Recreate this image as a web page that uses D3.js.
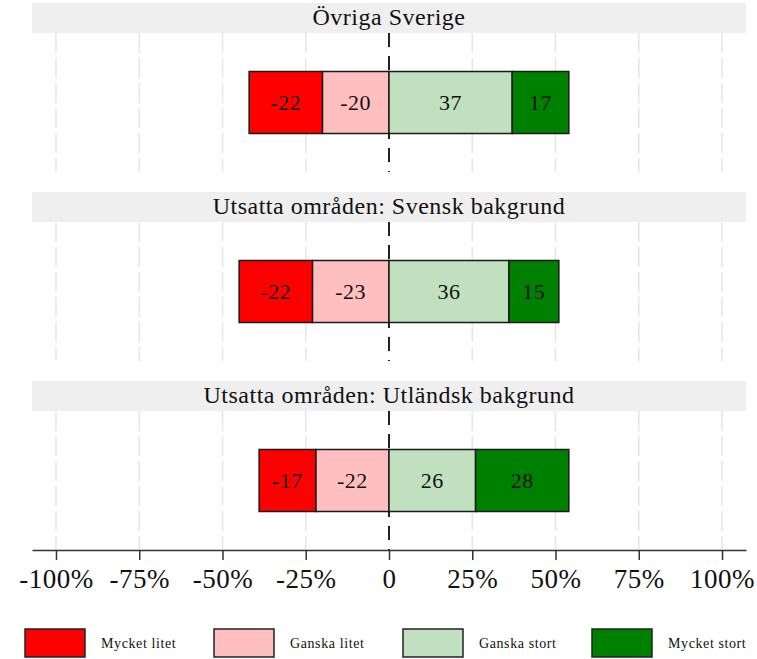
<!DOCTYPE html>
<html>
<head>
<meta charset="utf-8">
<script src="https://cdn.jsdelivr.net/npm/d3@7"></script>
<style>
  body { margin: 0; background: #fff; }
  svg { display: block; font-family: "Liberation Serif", "DejaVu Serif", serif; }
</style>
</head>
<body>
<div id="chart"></div>
<script>
// Data
const panels = ['Övriga Sverige', 'Utsatta områden: Svensk bakgrund', 'Utsatta områden: Utländsk bakgrund'];
const categories = ['Mycket litet', 'Ganska litet', 'Ganska stort', 'Mycket stort'];
const mycketLitet = [-22, -22, -17];
const ganskaLitet = [-20, -23, -22];
const ganskaStort = [37, 36, 26];
const mycketStort = [17, 15, 28];
const tickValues = [-100, -75, -50, -25, 0, 25, 50, 75, 100];
const colors = ['#ff0000', '#ffbfbf', '#c0e0c0', '#008000'];

const W = 757, H = 659;
const left = 32, right = 746;
const headerH = 30, plotH = 139;

const svg = d3.select('#chart').append('svg').attr('width', W).attr('height', H);

const x = d3.scaleLinear().domain([-107.2, 107.2]).range([left, right]);
const panelY = d3.scaleBand().domain(panels).range([3, 570]);

// build segments: negatives stacked leftwards from 0, positives rightwards
const rows = panels.map((p, i) => {
  const vals = [mycketLitet[i], ganskaLitet[i], ganskaStort[i], mycketStort[i]];
  const segs = [
    { cat: 1, x0: vals[1], x1: 0, v: vals[1] },
    { cat: 0, x0: vals[0] + vals[1], x1: vals[1], v: vals[0] },
    { cat: 2, x0: 0, x1: vals[2], v: vals[2] },
    { cat: 3, x0: vals[2], x1: vals[2] + vals[3], v: vals[3] }
  ];
  return { panel: p, segs };
});

const panelG = svg.selectAll('.panel')
  .data(rows)
  .join('g')
  .attr('class', 'panel')
  .attr('transform', d => `translate(0,${panelY(d.panel)})`);

// header strip
panelG.append('rect')
  .attr('x', left).attr('y', 0)
  .attr('width', right - left).attr('height', headerH)
  .attr('fill', '#efefef');

panelG.append('text')
  .attr('x', x(0)).attr('y', headerH - 8)
  .attr('text-anchor', 'middle')
  .attr('font-size', 24)
  .attr('letter-spacing', 0.5)
  .attr('fill', '#111')
  .text(d => d.panel);

// gridlines
panelG.each(function () {
  const g = d3.select(this);
  g.selectAll('.grid')
    .data(tickValues.filter(t => t !== 0))
    .join('line')
    .attr('class', 'grid')
    .attr('x1', d => x(d)).attr('x2', d => x(d))
    .attr('y1', headerH).attr('y2', headerH + plotH)
    .attr('stroke', '#e6e6e6')
    .attr('stroke-width', 1.5)
    .attr('stroke-dasharray', '20,5');
  g.append('line')
    .attr('x1', x(0)).attr('x2', x(0))
    .attr('y1', headerH).attr('y2', headerH + plotH)
    .attr('stroke', '#222')
    .attr('stroke-width', 2)
    .attr('stroke-dasharray', '14,9');
});

// bars
const barH = 62;
const barY = headerH + (plotH - barH) / 2;

panelG.each(function (d) {
  const g = d3.select(this);
  const seg = g.selectAll('.seg').data(d.segs).join('g').attr('class', 'seg');
  seg.append('rect')
    .attr('x', s => x(s.x0))
    .attr('y', barY)
    .attr('width', s => x(s.x1) - x(s.x0))
    .attr('height', barH)
    .attr('fill', s => colors[s.cat])
    .attr('stroke', '#1a1a1a')
    .attr('stroke-width', 1.5);
  seg.append('text')
    .attr('x', s => (x(s.x0) + x(s.x1)) / 2)
    .attr('y', barY + barH / 2)
    .attr('dy', '0.35em')
    .attr('text-anchor', 'middle')
    .attr('font-size', 22)
    .attr('letter-spacing', 0.5)
    .attr('fill', '#111')
    .text(s => s.v);
});

// x axis
const axisY = panelY(panels[2]) + headerH + plotH;
const axisG = svg.append('g')
  .attr('transform', `translate(0,${axisY})`)
  .call(d3.axisBottom(x)
    .tickValues(tickValues)
    .tickSize(10)
    .tickSizeOuter(0)
    .tickPadding(9)
    .tickFormat(d => d === 0 ? '0' : d + '%'));
axisG.select('.domain').attr('stroke', '#333').attr('stroke-width', 1.5);
axisG.selectAll('.tick line').attr('stroke', '#333').attr('stroke-width', 1.5);
axisG.selectAll('.tick text')
  .attr('font-family', '"Liberation Serif", serif')
  .attr('font-size', 27)
  .attr('letter-spacing', 0.5)
  .attr('fill', '#111');

// legend
const legendX = d3.scalePoint().domain(categories).range([25, 592]);
const leg = svg.selectAll('.leg')
  .data(categories)
  .join('g')
  .attr('class', 'leg')
  .attr('transform', d => `translate(${legendX(d)},629)`);
leg.append('rect')
  .attr('width', 60).attr('height', 28)
  .attr('fill', (d, i) => colors[i])
  .attr('stroke', '#222').attr('stroke-width', 1.5);
leg.append('text')
  .attr('x', 76).attr('y', 19)
  .attr('font-size', 14)
  .attr('letter-spacing', 0.6)
  .attr('fill', '#111')
  .text(d => d);
</script>
</body>
</html>
